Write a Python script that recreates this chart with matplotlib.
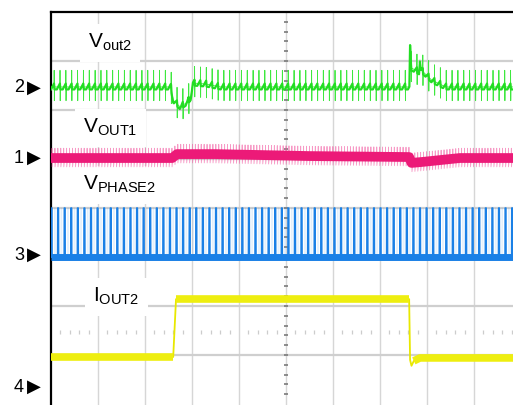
import numpy as np
import matplotlib.pyplot as plt

plt.rcParams['font.family'] = ['Liberation Sans', 'DejaVu Sans']
plt.rcParams['mathtext.fontset'] = 'custom'
plt.rcParams['mathtext.rm'] = 'Liberation Sans'
plt.rcParams['mathtext.it'] = 'Liberation Sans:italic'

# scope screen in divisions (x: time, y: level, 8 div high)
x_max = 462 / 47
y_min = 8 - 393 / 49
period = 0.1245       # ripple period
blue_period = 0.14    # spacing of the phase-node pulses

# Vout2 (green): average level, sawtooth and spikes over one period
green_env_t = [0, 2.55, 2.60, 2.75, 2.90, 2.97, 3.02, 3.30, 3.60, 7.625, 7.64, 7.66, 7.83, 7.85, 7.87, 8.10, 8.40, x_max]
green_env_lvl = [6.47, 6.47, 6.20, 6.06, 6.16, 6.25, 6.55, 6.53, 6.47, 6.47, 7.29, 6.86, 6.78, 7.02, 6.82, 6.61, 6.47, 6.47]
green_saw_frac = [0.0, 0.52, 0.60]
green_saw = [-0.05, 0.07, -0.05]
green_spk_frac = [0.0, 0.52, 0.54, 0.57, 0.60]
green_spk = [0.0, 0.0, 0.34, -0.28, 0.0]

# VOUT1 (magenta)
mag_env_t = [0, 2.58, 2.68, 3.5, 5.5, 7.62, 7.67, 7.9, 8.3, 8.7, x_max]
mag_env_lvl = [5.02, 5.02, 5.10, 5.10, 5.06, 5.04, 4.92, 4.94, 4.98, 5.02, 5.02]
mag_rip_frac = [0.0, 0.30, 0.34, 0.38, 0.70]
mag_rip = [0.0, 0.0, 0.20, -0.18, 0.0]

# VPHASE2 (blue): low / high level and pulse shape
blue_low, blue_high = 3.0, 4.0
blue_pulse_frac = [0.0, 0.02, 0.14, 0.16]
blue_pulse = [blue_low, blue_high, blue_high, blue_low]

# IOUT2 (yellow)
yel_t = [0, 2.60, 2.66, 7.62, 7.64, 7.67, 7.72, 7.85, x_max]
yel_lvl = [0.96, 0.96, 2.14, 2.14, 0.90, 0.78, 0.88, 0.94, 0.94]

labels = [r'V$_{\mathrm{out2}}$', r'V$_{\mathrm{OUT1}}$', r'V$_{\mathrm{PHASE2}}$', r'I$_{\mathrm{OUT2}}$']
label_pos = [(88, 48), (83, 133), (83, 190), (93, 302)]
markers = ['2', '1', '3', '4']
marker_py = [88, 158, 255, 387]


def periodic(env_t, env_lvl, frac, rip, per):
    n = int(np.ceil(x_max / per)) + 1
    t = ((np.arange(n)[:, None] + np.array(frac)[None, :]) * per).ravel()
    t = np.sort(np.concatenate([t, env_t]))
    t = t[t <= x_max]
    y = np.interp(t, env_t, env_lvl) + np.interp(t, np.array(frac) * per, rip, period=per)
    return t, y


W, H = 513, 405
fig = plt.figure(figsize=(W / 100, H / 100), dpi=100)
ax = fig.add_axes([51 / W, 0, 462 / W, 393 / H])
ax.set_xlim(0, x_max)
ax.set_ylim(y_min, 8)
ax.set_xticks([])
ax.set_yticks([])
for s in ['right', 'bottom']:
    ax.spines[s].set_visible(False)
for s in ['left', 'top']:
    ax.spines[s].set_linewidth(1.6)
    ax.spines[s].set_color('black')

# graticule
for x in range(1, 10):
    ax.axvline(x, color='#d6d6d6', lw=1.0, zorder=0)
for y in range(1, 8):
    ax.axhline(y, color='#cfcfcf', lw=1.6, zorder=0)
ax.plot([5] * 39, np.arange(1, 40) * 0.2, ls='none', marker='_', ms=3.5, mew=1.2, color='#7a7a7a', zorder=0)
tick_x = [v * 0.2 for v in range(1, 50) if v % 5]
ax.plot(tick_x, [1.47] * len(tick_x), ls='none', marker='|', ms=3.5, mew=0.9, color='#cccccc', zorder=0)

# traces
st, sy = periodic(green_env_t, green_env_lvl, green_spk_frac, green_spk, period)
ax.plot(st, sy, color='#3ee83e', lw=0.6, zorder=3)
gt, gy = periodic(green_env_t, green_env_lvl, green_saw_frac, green_saw, period)
ax.plot(gt, gy, color='#22dd22', lw=1.6, zorder=3)

mt, my = periodic(mag_env_t, mag_env_lvl, mag_rip_frac, mag_rip, period / 2)
ax.plot(mt, my, color='#f2559f', lw=0.6, alpha=0.6, zorder=3)
ax.plot(mag_env_t, mag_env_lvl, color='#ec1a78', lw=7, solid_capstyle='butt', zorder=3)

bt, by = periodic([0, x_max], [0, 0], blue_pulse_frac, blue_pulse, blue_period)
ax.plot(bt + blue_period * 0.5, by, color='#1a80e6', lw=0.5, alpha=0.15, zorder=3)
ax.plot(bt, by, color='#1a80e6', lw=1.1, zorder=3)
ax.plot([0, x_max], [blue_low, blue_low], color='#1a80e6', lw=5, solid_capstyle='butt', zorder=3)

ax.plot(yel_t, yel_lvl, color='#e8e800', lw=1.3, zorder=3)
for a, b in [(0, 2), (2, 4), (6, 9)]:
    ax.plot(yel_t[a:b], yel_lvl[a:b], color='#eeee10', lw=5.5, solid_capstyle='butt', zorder=3)

# labels
for txt, (px, py) in zip(labels, label_pos):
    ax.text(px / W, 1 - py / H, txt, transform=fig.transFigure, fontsize=15,
            ha='left', va='baseline', zorder=1,
            bbox=dict(facecolor='white', edgecolor='none', pad=6))

for m, py in zip(markers, marker_py):
    fig.text(24 / W, 1 - py / H, m, fontsize=13, ha='right', va='center')
    fig.text(34 / W, 1 - py / H, '\u25B6', fontsize=13, ha='center', va='center',
             family='DejaVu Sans')

fig.savefig('out.png', dpi=100)
